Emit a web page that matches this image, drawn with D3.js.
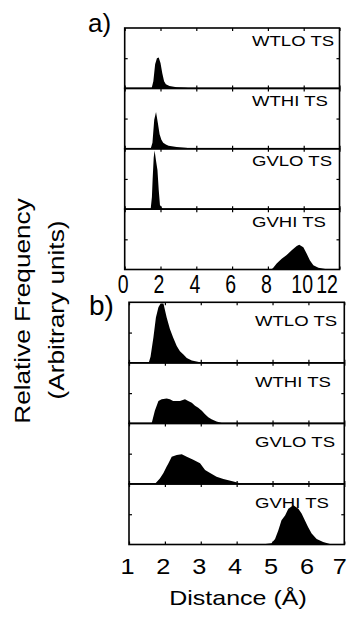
<!DOCTYPE html>
<html>
<head>
<meta charset="utf-8">
<script src="https://cdnjs.cloudflare.com/ajax/libs/d3/7.8.5/d3.min.js"></script>
<style>
body { margin: 0; background: #fff; }
text { font-family: "Liberation Sans", Arial, sans-serif; fill: #000; }
</style>
</head>
<body>
<div id="chart"></div>
<script>
// sub-panel labels, top to bottom
let names = ["WTLO TS", "WTHI TS", "GVLO TS", "GVHI TS"];

// panel a) [distance, relative height]
let wtloA = [[1.5,0],[1.6,0.12],[1.7,0.4],[1.8,0.5],[1.9,0.51],[2.0,0.42],[2.1,0.25],[2.2,0.12],[2.3,0.07],[2.5,0.04],[2.9,0.02],[3.4,0.01],[3.8,0]];
let wthiA = [[1.45,0],[1.55,0.1],[1.65,0.48],[1.75,0.61],[1.85,0.43],[1.95,0.24],[2.05,0.15],[2.15,0.1],[2.3,0.07],[2.45,0.05],[2.9,0.03],[3.4,0.015],[3.9,0]];
let gvloA = [[1.45,0],[1.52,0.2],[1.56,0.49],[1.62,0.85],[1.67,0.97],[1.75,0.8],[1.83,0.65],[1.9,0.32],[1.97,0.07],[2.1,0.01],[2.2,0]];
let gvhiA = [[8.2,0],[8.3,0.03],[8.49,0.1],[8.77,0.18],[9.05,0.24],[9.33,0.32],[9.61,0.39],[9.75,0.41],[9.98,0.37],[10.17,0.26],[10.35,0.15],[10.54,0.07],[10.82,0.03],[11.28,0.005],[11.4,0]];

// panel b)
let wtloB = [[1.55,0],[1.6,0.1],[1.68,0.42],[1.75,0.75],[1.82,0.92],[1.88,0.98],[1.96,0.98],[2.05,0.75],[2.14,0.56],[2.23,0.42],[2.33,0.28],[2.42,0.19],[2.51,0.14],[2.61,0.08],[2.75,0.04],[2.98,0.01],[3.1,0]];
let wthiB = [[1.63,0],[1.72,0.21],[1.82,0.37],[1.91,0.4],[2.05,0.41],[2.14,0.4],[2.23,0.37],[2.42,0.37],[2.56,0.4],[2.65,0.37],[2.75,0.34],[2.84,0.29],[2.93,0.26],[3.03,0.21],[3.12,0.15],[3.21,0.1],[3.3,0.07],[3.44,0.03],[3.63,0]];
let gvloB = [[1.72,0],[1.86,0.09],[1.96,0.18],[2.05,0.29],[2.1,0.34],[2.19,0.45],[2.33,0.48],[2.47,0.49],[2.61,0.45],[2.79,0.4],[2.98,0.34],[3.12,0.23],[3.26,0.18],[3.44,0.12],[3.63,0.08],[3.91,0.04],[4.09,0.01],[4.2,0]];
let gvhiB = [[4.7,0],[4.97,0.02],[5.07,0.09],[5.16,0.23],[5.25,0.4],[5.35,0.48],[5.44,0.59],[5.58,0.65],[5.72,0.59],[5.81,0.51],[5.9,0.4],[5.99,0.29],[6.09,0.18],[6.23,0.09],[6.41,0.04],[6.6,0.01],[6.75,0]];

let ticksA = [0, 2, 4, 6, 8, 10, 12];
let ticksB = [1, 2, 3, 4, 5, 6, 7];

let svg = d3.select("#chart").append("svg")
  .attr("width", 361)
  .attr("height", 619);

function drawPanel(p) {
  let x = d3.scaleLinear().domain(p.domain).range([p.left, p.right]);
  let h = (p.bottom - p.top) / 4;
  let g = svg.append("g");

  p.series.forEach(function(s, i) {
    let y0 = p.top + i * h;
    let y = d3.scaleLinear().domain([0, 1]).range([y0 + h, y0]);

    let area = d3.area()
      .x(d => x(d[0]))
      .y0(y(0))
      .y1(d => y(d[1]));

    g.append("path")
      .datum(s)
      .attr("d", area)
      .attr("fill", "#000");

    // small inward ticks on every side
    let tb = g.append("g").attr("transform", "translate(0," + (y0 + h) + ")")
      .call(d3.axisBottom(x).tickValues(p.ticks).tickSize(-3).tickFormat(""));
    let tt = g.append("g").attr("transform", "translate(0," + y0 + ")")
      .call(d3.axisTop(x).tickValues(p.ticks).tickSize(-3).tickFormat(""));
    let tl = g.append("g").attr("transform", "translate(" + p.left + ",0)")
      .call(d3.axisLeft(y).tickValues([0.5]).tickSize(-3).tickFormat(""));
    let tr = g.append("g").attr("transform", "translate(" + p.right + ",0)")
      .call(d3.axisRight(y).tickValues([0.5]).tickSize(-3).tickFormat(""));
    [tb, tt, tl, tr].forEach(function(a) {
      a.select(".domain").remove();
      a.selectAll("line").attr("stroke", "#000").attr("stroke-width", 1.2);
    });

    g.append("rect")
      .attr("x", p.left)
      .attr("y", y0)
      .attr("width", p.right - p.left)
      .attr("height", h)
      .attr("fill", "none")
      .attr("stroke", "#000")
      .attr("stroke-width", 1.6);

    g.append("text")
      .attr("transform", "translate(" + p.nameX + "," + (y0 + p.nameDy) + ") scale(1.28,1)")
      .attr("font-size", 14.5)
      .text(names[i]);
  });

  // tick labels
  let lab = g.append("g").attr("transform", "translate(0," + p.bottom + ")")
    .call(d3.axisBottom(x).tickValues(p.ticks).tickSize(0).tickFormat(d3.format("d")));
  lab.select(".domain").remove();
  lab.selectAll("text")
    .attr("y", null)
    .attr("dy", null)
    .attr("fill", "#000")
    .style("font-family", "'Liberation Sans', Arial, sans-serif")
    .attr("font-size", p.tickFont)
    .attr("transform", function(d, i) {
      let dx = i == p.ticks.length - 1 ? p.lastDx : -2;
      return "translate(" + dx + "," + p.tickOff + ") scale(" + p.tickScale + ",1)";
    });

  svg.append("text")
    .attr("x", p.tagX)
    .attr("y", p.tagY)
    .attr("font-size", p.tagFont)
    .text(p.tag);

  return x;
}

drawPanel({
  left: 124.7, right: 339.5, top: 28, bottom: 269.5,
  domain: [0, 12], ticks: ticksA,
  series: [wtloA, wthiA, gvloA, gvhiA],
  nameX: 252, nameDy: 17.5,
  tickFont: 26, tickScale: 0.75, tickOff: 23.5, lastDx: -13,
  tag: "a)", tagX: 88, tagY: 31.5, tagFont: 26
});

drawPanel({
  left: 129, right: 344.3, top: 302.3, bottom: 544.5,
  domain: [1, 7], ticks: ticksB,
  series: [wtloB, wthiB, gvloB, gvhiB],
  nameX: 255, nameDy: 24,
  tickFont: 22, tickScale: 1.15, tickOff: 29.5, lastDx: -5,
  tag: "b)", tagX: 89, tagY: 315, tagFont: 28
});

// axis titles
svg.append("text")
  .attr("transform", "translate(238,605) scale(1.19,1)")
  .attr("text-anchor", "middle")
  .attr("font-size", 21)
  .text("Distance (Å)");

svg.append("text")
  .attr("transform", "translate(29.5,311) rotate(-90) scale(1.19,1)")
  .attr("text-anchor", "middle")
  .attr("font-size", 22)
  .text("Relative Frequency");

svg.append("text")
  .attr("transform", "translate(63.5,310) rotate(-90) scale(1.19,1)")
  .attr("text-anchor", "middle")
  .attr("font-size", 22)
  .text("(Arbitrary units)");
</script>
</body>
</html>
